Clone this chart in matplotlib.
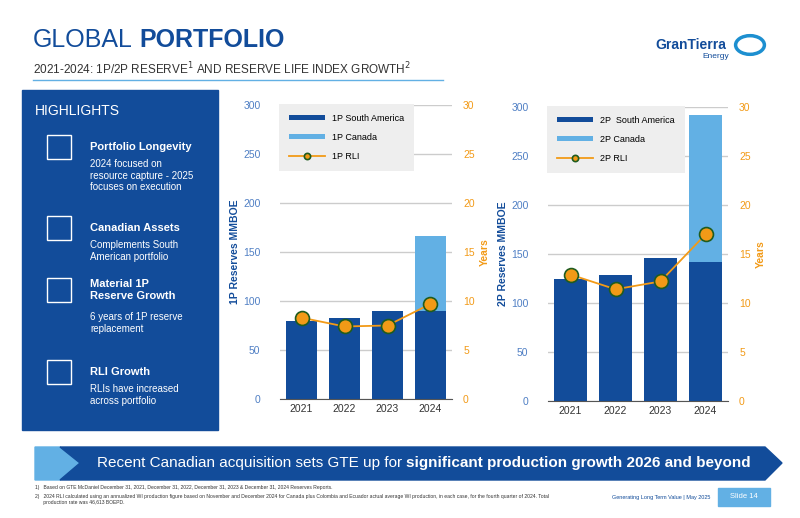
import matplotlib.pyplot as plt
from matplotlib.patches import Rectangle, Polygon, Circle
import numpy as np

plt.rcParams['font.family'] = ['Liberation Sans', 'DejaVu Sans']

years = ['2021', '2022', '2023', '2024']
p1_south_america = [80, 83, 90, 90]
p1_canada = [0, 0, 0, 76]
p1_rli = [8.3, 7.4, 7.5, 9.7]
p2_south_america = [124, 129, 146, 142]
p2_canada = [0, 0, 0, 150]
p2_rli = [12.9, 11.4, 12.2, 17.0]

highlights = [
    ('Portfolio Longevity', '2024 focused on\nresource capture - 2025\nfocuses on execution'),
    ('Canadian Assets', 'Complements South\nAmerican portfolio'),
    ('Material 1P\nReserve Growth', '6 years of 1P reserve\nreplacement'),
    ('RLI Growth', 'RLIs have increased\nacross portfolio'),
]

DARK = '#124c9a'
LIGHT = '#62b0e4'
ORANGE = '#f29a17'
TICKBLUE = '#4f7fc4'

fig = plt.figure(figsize=(8, 5.18), dpi=100)
W, H = 800, 518
renderer = fig.canvas.get_renderer()


def fx(x):
    return x / W


def fy(y):
    return 1 - y / H


def text_pair(x, y, a, b, size, gap=0.0):
    # plain text followed by bold text on one line
    t = fig.text(fx(x), fy(y), a, fontsize=size, color=DARK if gap else 'white', va='center')
    bb = t.get_window_extent(renderer)
    fig.text(bb.x1 / W + gap, fy(y), b, fontsize=size, color=t.get_color(), va='center',
             fontweight='bold')


# title block
text_pair(33, 40, 'GLOBAL', 'PORTFOLIO', 18, gap=0.008)
fig.text(fx(33), fy(69), '2021-2024: 1P/2P RESERVE$^1$ AND RESERVE LIFE INDEX GROWTH$^2$',
         fontsize=8.5, color='#333333', va='center')
fig.add_artist(plt.Line2D([fx(33), fx(443)], [fy(80), fy(80)], color=LIGHT, lw=1))
fig.text(fx(655), fy(45), 'GranTierra', fontsize=10, color=DARK, va='center', fontweight='bold')
fig.text(fx(702), fy(57), 'Energy', fontsize=6, color=DARK, va='center')
fig.add_artist(Circle((fx(750), fy(45)), 0.018, transform=fig.transFigure, fill=False,
                      ec='#1d8fd0', lw=2.5))

# highlights panel
fig.add_artist(Rectangle((fx(22), fy(430)), fx(196), fy(90) - fy(430),
                         transform=fig.transFigure, color=DARK))
fig.text(fx(35), fy(111), 'HIGHLIGHTS', fontsize=10, color='white', va='center')
ys = [147, 228, 290, 372]
for (head, body), y in zip(highlights, ys):
    fig.text(fx(90), fy(y), head, fontsize=8, color='white', fontweight='bold', va='center')
    nl = head.count('\n')
    fig.text(fx(90), fy(y + 12 + nl * 10), body, fontsize=7, color='white', va='top',
             linespacing=1.2)
    fig.add_artist(Rectangle((fx(47), fy(y + 12)), fx(24), fy(y - 12) - fy(y + 12),
                             transform=fig.transFigure, fill=False, ec='white', lw=1))


def chart(rect, sa, ca, rli, lbl, ylabel):
    ax = fig.add_axes(rect)
    x = np.arange(len(years))
    ax.bar(x, sa, width=0.72, color=DARK, label=lbl[0], zorder=2)
    ax.bar(x, ca, width=0.72, bottom=sa, color=LIGHT, label=lbl[1], zorder=2)
    ax.set_ylim(0, 300)
    ax.set_yticks(range(0, 301, 50))
    ax.set_xlim(-0.5, 3.5)
    ax.set_xticks(x)
    ax.set_xticklabels(years)
    ax.grid(axis='y', color='#cccccc', lw=1, zorder=0)
    for s in ['top', 'left', 'right']:
        ax.spines[s].set_visible(False)
    ax.spines['bottom'].set_color('#555555')
    ax.tick_params(axis='y', colors=TICKBLUE, labelsize=7.5, length=0, pad=14)
    ax.tick_params(axis='x', labelsize=7.5, length=0, colors='#333333')
    ax.set_ylabel(ylabel, color=DARK, fontsize=7.5, fontweight='bold', labelpad=2)
    ax2 = ax.twinx()
    ax2.plot(x, rli, color=ORANGE, lw=1.3, marker='o', ms=10, mfc=ORANGE,
             mec='#1f5c1f', mew=1.2, label=lbl[2], zorder=3)
    ax2.set_ylim(0, 30)
    ax2.set_yticks(range(0, 31, 5))
    for s in ['top', 'left', 'right', 'bottom']:
        ax2.spines[s].set_visible(False)
    ax2.tick_params(axis='y', colors=ORANGE, labelsize=7.5, length=0, pad=8)
    ax2.set_ylabel('Years', color=ORANGE, fontsize=7.5, fontweight='bold')
    h1, l1 = ax.get_legend_handles_labels()
    h2, l2 = ax2.get_legend_handles_labels()
    leg = ax2.legend(h1 + h2, l1 + l2, loc='upper left', fontsize=6.5, frameon=True,
                     facecolor='#eeeeee', edgecolor='none', framealpha=1,
                     borderaxespad=0.2, labelspacing=1.1, handlelength=4,
                     handleheight=0.5, markerscale=0.45, borderpad=0.8)
    leg.get_frame().set_boxstyle('square')
    leg.set_zorder(10)


chart([fx(280), fy(399), fx(172), fy(105) - fy(399)], p1_south_america, p1_canada, p1_rli,
      ['1P South America', '1P Canada', '1P RLI'], '1P Reserves MMBOE')
chart([fx(548), fy(401), fx(180), fy(107) - fy(401)], p2_south_america, p2_canada, p2_rli,
      ['2P  South America', '2P Canada', '2P RLI'], '2P Reserves MMBOE')

# banner
fig.add_artist(Polygon([(fx(35), fy(447)), (fx(60), fy(447)), (fx(80), fy(463)),
                        (fx(60), fy(480)), (fx(35), fy(480))],
                       transform=fig.transFigure, color=LIGHT))
fig.add_artist(Polygon([(fx(60), fy(447)), (fx(765), fy(447)), (fx(782), fy(463)),
                        (fx(765), fy(480)), (fx(60), fy(480)), (fx(80), fy(463))],
                       transform=fig.transFigure, color=DARK))
text_pair(97, 463, 'Recent Canadian acquisition sets GTE up for ',
          'significant production growth 2026 and beyond', 11)

# footnotes
fig.text(fx(35), fy(488), '1)   Based on GTE McDaniel December 31, 2021, December 31, 2022, December 31, 2023 & December 31, 2024 Reserves Reports.',
         fontsize=3.6, color='#333333', va='center')
fig.text(fx(35), fy(494), '2)   2024 RLI calculated using an annualized WI production figure based on November and December 2024 for Canada plus Colombia and Ecuador actual average WI production, in each case, for the fourth quarter of 2024. Total\n      production rate was 46,613 BOEPD.',
         fontsize=3.6, color='#333333', va='top')
fig.text(fx(612), fy(497), 'Generating Long Term Value | May 2025', fontsize=4, color=DARK, va='center')
fig.add_artist(Rectangle((fx(718), fy(506)), fx(52), fy(488) - fy(506),
                         transform=fig.transFigure, color=LIGHT))
fig.text(fx(744), fy(497), 'Slide 14', fontsize=5.5, color='white', va='center', ha='center')

fig.savefig('out.png', dpi=100)
